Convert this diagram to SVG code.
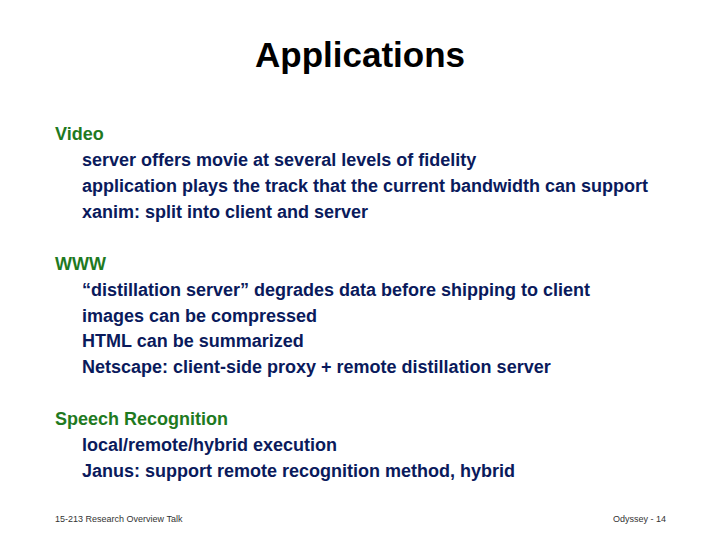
<svg xmlns="http://www.w3.org/2000/svg" width="720" height="540" viewBox="0 0 720 540">
<style>
text{font-family:"Liberation Sans",Arial,sans-serif;font-weight:bold}
.t{font-size:35px;fill:#000}
.h{font-size:18px;fill:#1f7a1f}
.b{font-size:18px;fill:#0a1a5c}
.f{font-size:9px;font-weight:normal;fill:#333}
</style>
<rect width="720" height="540" fill="#fff"/>
<text class="t" x="360" y="67" text-anchor="middle">Applications</text>
<text class="h" x="55" y="140">Video</text>
<text class="b" x="82" y="166">server offers movie at several levels of fidelity</text>
<text class="b" x="82" y="192">application plays the track that the current bandwidth can support</text>
<text class="b" x="82" y="218">xanim: split into client and server</text>
<text class="h" x="55" y="270">WWW</text>
<text class="b" x="82" y="296">“distillation server” degrades data before shipping to client</text>
<text class="b" x="82" y="322">images can be compressed</text>
<text class="b" x="82" y="347">HTML can be summarized</text>
<text class="b" x="82" y="373">Netscape: client-side proxy + remote distillation server</text>
<text class="h" x="55" y="425">Speech Recognition</text>
<text class="b" x="82" y="451">local/remote/hybrid execution</text>
<text class="b" x="82" y="477">Janus: support remote recognition method, hybrid</text>
<text class="f" x="55" y="522">15-213 Research Overview Talk</text>
<text class="f" x="666" y="522" text-anchor="end">Odyssey - 14</text>
</svg>
